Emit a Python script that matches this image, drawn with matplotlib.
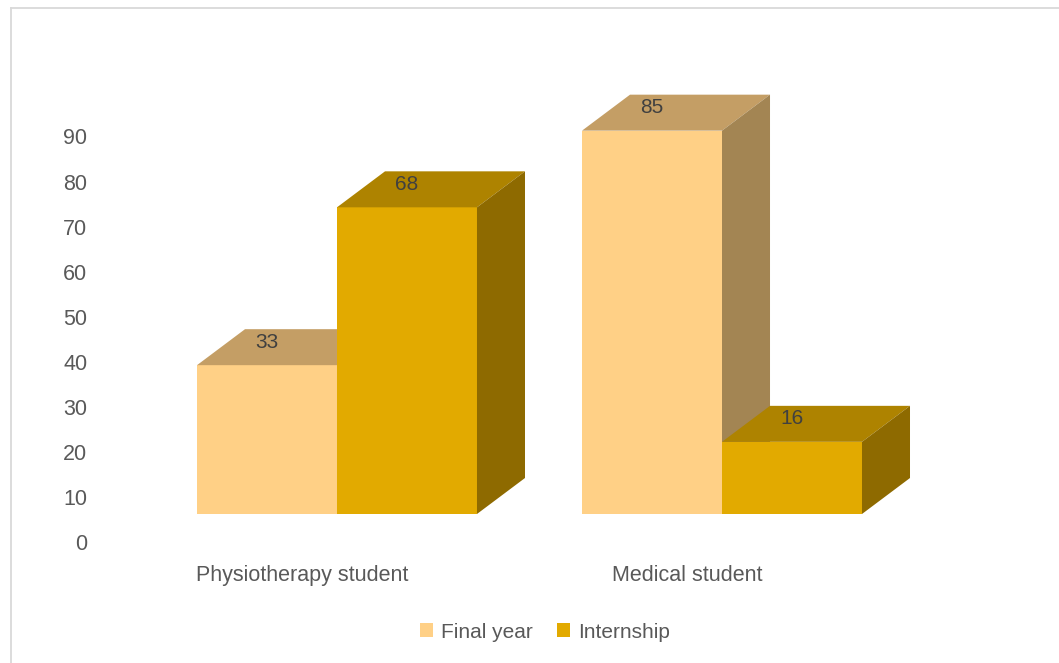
import matplotlib.pyplot as plt
from matplotlib.patches import Polygon
from matplotlib.lines import Line2D

categories = ["Physiotherapy student", "Medical student"]
series = ["Final year", "Internship"]
final_year = [33, 85]
internship = [68, 16]
yticks = [0, 10, 20, 30, 40, 50, 60, 70, 80, 90]

# face colours: front, top, side
colors = {
    "Final year": ("#FFD086", "#C49E65", "#A38553"),
    "Internship": ("#E2AA00", "#AE8300", "#8E6A00"),
}

plt.rcParams['font.family'] = ['Liberation Sans', 'DejaVu Sans']

fig = plt.figure(figsize=(10.59, 6.63), dpi=100)
ax = fig.add_axes([0, 0, 1, 1])
ax.set_xlim(-0.8753, 1.8753)
ax.set_ylim(-26.61, 120.4)
ax.axis('off')

w = 0.3636     # bar width
base = 6.43    # floor of the front faces
ddx = 0.1247   # depth offset (x)
ddy = 7.98     # depth offset (y)


def box(x0, h, cols):
    front, top, side = cols
    y1 = base + h
    x1 = x0 + w
    ax.add_patch(Polygon([(x0, base), (x1, base), (x1, y1), (x0, y1)],
                         closed=True, fc=front, ec='none'))
    ax.add_patch(Polygon([(x0, y1), (x1, y1), (x1 + ddx, y1 + ddy), (x0 + ddx, y1 + ddy)],
                         closed=True, fc=top, ec='none'))
    ax.add_patch(Polygon([(x1, base), (x1 + ddx, base + ddy), (x1 + ddx, y1 + ddy), (x1, y1)],
                         closed=True, fc=side, ec='none'))
    ax.text(x0 + w / 2, y1 + ddy / 2 + 1.1, str(h), ha='center', va='center',
            fontsize=15, color='#404040')


for i, cat in enumerate(categories):
    box(i - w, final_year[i], colors["Final year"])
    box(i, internship[i], colors["Internship"])
    ax.text(i - 0.09, -7.3, cat, ha='center', va='center', fontsize=15.5, color='#595959')

for t in yticks:
    ax.text(-0.649, t - 0.4, str(t), ha='right', va='center', fontsize=15.5, color='#595959')

handles = [Polygon([(0, 0)], fc=colors[s][0], ec='none') for s in series]
fig.legend(handles, series, loc='center', bbox_to_anchor=(545 / 1059, 1 - 632 / 663),
           ncol=2, frameon=False, fontsize=15, handlelength=0.62, handleheight=0.62,
           handletextpad=0.35, columnspacing=1.2, labelcolor='#595959')

# chart border (only top and left edges visible)
fig.add_artist(Line2D([10.5 / 1059, 10.5 / 1059], [0, 1 - 7.5 / 663], transform=fig.transFigure,
                      color='#D9D9D9', lw=1.3))
fig.add_artist(Line2D([10.5 / 1059, 1], [1 - 7.5 / 663, 1 - 7.5 / 663], transform=fig.transFigure,
                      color='#D9D9D9', lw=1.3))

fig.savefig('out.png', dpi=100)
